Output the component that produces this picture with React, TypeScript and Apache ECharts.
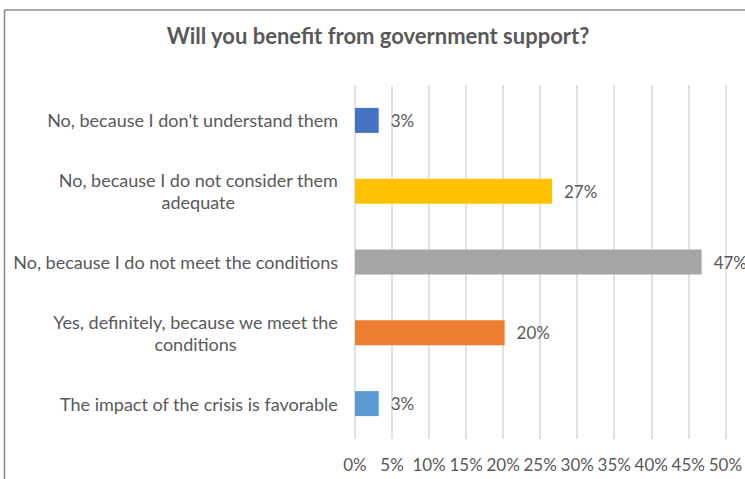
import React, { useEffect, useRef } from "react";
import * as echarts from "echarts";

const titleText = "Will you benefit from government support?";
const categories = [
  "No, because I don't understand them",
  "No, because I do not consider them\nadequate",
  "No, because I do not meet the conditions",
  "Yes, definitely, because we meet the\nconditions",
  "The impact of the crisis is favorable",
];
const values = [3.2, 26.6, 46.8, 20.2, 3.2];
const barColors = ["#4472C4", "#FFC000", "#A5A5A5", "#ED7D31", "#5B9BD5"];
const axisMax = 50;
const axisStep = 5;

const FONT = "Lato, 'Open Sans', sans-serif";
const TEXT = "#595959";

export default function App() {
  const ref = useRef<HTMLDivElement>(null);
  useEffect(() => {
    if (!ref.current) return;
    const chart = echarts.init(ref.current, null, { renderer: "svg" });
    chart.setOption({
      animation: false,
      backgroundColor: "#ffffff",
      title: {
        text: titleText,
        left: 373,
        textAlign: "center",
        top: 19,
        textStyle: { fontFamily: FONT, fontSize: 22, fontWeight: "bold", color: TEXT },
      },
      graphic: [
        { type: "line", shape: { x1: 4.5, y1: 10, x2: 4.5, y2: 479 }, style: { stroke: "#8a8a8a", lineWidth: 1.5 } },
        { type: "line", shape: { x1: 4.5, y1: 10, x2: 745, y2: 10 }, style: { stroke: "#8a8a8a", lineWidth: 1.5 } },
      ],
      grid: { left: 355, right: 13, top: 85, bottom: 40, containLabel: false },
      xAxis: {
        type: "value",
        min: 0,
        max: axisMax,
        interval: axisStep,
        axisLine: { show: false },
        axisTick: { show: false },
        splitLine: { show: true, lineStyle: { color: "#D9D9D9", width: 1.5 } },
        axisLabel: {
          formatter: (v: number) => `${v}%`,
          fontFamily: FONT,
          fontSize: 17,
          color: TEXT,
          margin: 17,
        },
      },
      yAxis: {
        type: "category",
        data: categories,
        inverse: true,
        axisLine: { show: false },
        axisTick: { show: false },
        splitLine: { show: false },
        axisLabel: {
          margin: 17,
          fontFamily: FONT,
          fontSize: 18,
          color: TEXT,
          lineHeight: 22,
          formatter: (v: string) =>
            v
              .split("\n")
              .map((l) => `{c|${l}}`)
              .join("\n"),
          rich: {
            c: { align: "center", fontFamily: FONT, fontSize: 18, color: TEXT, lineHeight: 22 },
          },
        },
      },
      series: [
        {
          type: "bar",
          data: values.map((v, i) => ({ value: v, itemStyle: { color: barColors[i] } })),
          barWidth: 25,
          label: {
            show: true,
            position: "right",
            distance: 12,
            formatter: (p: any) => `${Math.round(p.value)}%`,
            fontFamily: FONT,
            fontSize: 17,
            color: TEXT,
          },
        },
      ],
    });
    return () => chart.dispose();
  }, []);
  return (
    <div style={{ position: "fixed", left: 0, top: 0, width: 745, height: 479, overflow: "hidden", background: "#fff" }}>
      <div ref={ref} style={{ width: 745, height: 479 }} />
    </div>
  );
}
